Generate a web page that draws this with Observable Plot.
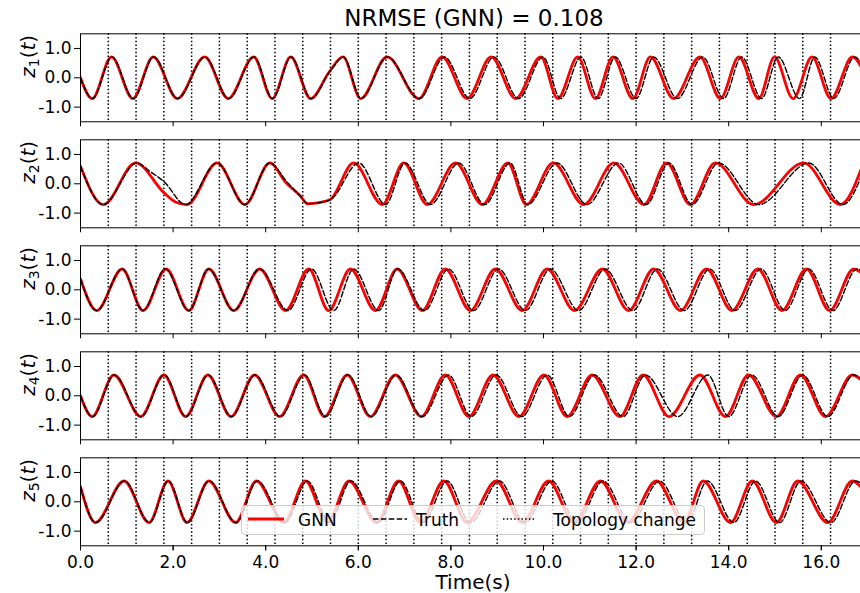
<!DOCTYPE html>
<html><head><meta charset="utf-8">
<script src="https://cdn.jsdelivr.net/npm/d3@7"></script>
<script src="https://cdn.jsdelivr.net/npm/@observablehq/plot@0.6"></script>
<style>
html,body{margin:0;padding:0;background:#fff;overflow:hidden;}
#wrap{position:relative;width:860px;height:593px;overflow:hidden;font-family:"DejaVu Sans",sans-serif;color:#000;}
#wrap svg{position:absolute;left:0;top:0;overflow:hidden;}
.abs{position:absolute;white-space:nowrap;}
#title{left:0;width:948px;top:5px;text-align:center;font-size:23px;}
#xlabel{left:0;width:946px;top:571px;text-align:center;font-size:20px;line-height:22px;}
#legend{left:241px;top:505px;width:464px;height:30px;box-sizing:border-box;background:rgba(255,255,255,0.8);border:1px solid #cccccc;border-radius:4px;font-size:17px;}
#legend .t{position:absolute;top:4px;line-height:20px;}
#legend svg{position:absolute;top:0;}
</style>
</head><body>
<div id="wrap">
  <div id="plot"></div>
  <div id="title" class="abs">NRMSE (GNN) = 0.108</div>
  <div id="xlabel" class="abs">Time(s)</div>
  <div id="legend" class="abs"></div>
</div>
<script>
// ---- data (extrema / shape points: [time, value]) ----
const seriesNames = ["z1", "z2", "z3", "z4", "z5"];
const xTicks = [0, 2, 4, 6, 8, 10, 12, 14, 16];
const yTicks = [-1, 0, 1];
const topologyTimes = [0.6, 1.2, 1.8, 2.4, 3.0, 3.6, 4.2, 4.8, 5.4, 6.0, 6.6, 7.2, 7.8, 8.4, 9.0,
  9.6, 10.2, 10.8, 11.4, 12.0, 12.6, 13.2, 13.8, 14.4, 15.0, 15.6, 16.2];

const z1Gnn = [[0,0.0],[0.25,-0.71],[0.67,0.71],[1.13,-0.71],[1.57,0.71],[2.09,-0.71],[2.68,0.71],[3.19,-0.71],[3.74,0.71],[4.14,-0.71],[4.54,0.71],[4.97,-0.71],[5.38,0.22],[5.67,0.71],[6.05,-0.71],[6.62,0.71],[7.31,-0.71],
  [7.81,0.71],[8.35,-0.71],[8.87,0.71],[9.40,-0.71],[9.94,0.71],[10.31,-0.71],[10.74,0.71],[11.12,-0.71],[11.50,0.71],[11.93,-0.71],[12.31,0.71],[12.81,-0.71],[13.38,0.71],[13.82,-0.71],[14.22,0.71],[14.65,-0.71],[14.99,0.71],[15.39,-0.71],[15.80,0.71],[16.21,-0.71],[16.67,0.71],[16.89,0.3]];
const z1Truth = [[0,0.0],[0.26,-0.71],[0.68,0.71],[1.14,-0.71],[1.58,0.71],[2.10,-0.71],[2.69,0.71],[3.20,-0.71],[3.75,0.71],[4.15,-0.71],[4.55,0.71],[4.98,-0.71],[5.39,0.22],[5.68,0.71],[6.06,-0.71],[6.63,0.71],[7.32,-0.71],
  [7.86,0.71],[8.41,-0.71],[8.93,0.71],[9.46,-0.71],[9.99,0.71],[10.37,-0.71],[10.81,0.71],[11.18,-0.71],[11.55,0.71],[12.00,-0.71],[12.38,0.71],[12.89,-0.71],[13.44,0.71],[13.89,-0.71],[14.28,0.71],[14.71,-0.71],[15.07,0.71],[15.53,-0.71],[15.86,0.71],[16.27,-0.71],[16.72,0.71],[16.89,0.45]];

const z2Gnn = [[0,0.6],[0.49,-0.71],[1.19,0.71],[1.80,-0.3],[2.05,-0.62],[2.30,-0.71],[2.95,0.71],[3.55,-0.71],[4.09,0.71],[4.43,0.05],[4.75,-0.42],[4.90,-0.68],[5.18,-0.63],[5.40,-0.53],[5.90,0.71],[6.52,-0.71],[6.98,0.71],[7.49,-0.71],
  [8.10,0.71],[8.68,-0.71],[9.23,0.71],[9.63,-0.71],[10.21,0.71],[10.87,-0.71],[11.52,0.71],[12.17,-0.71],[12.66,0.71],[13.17,-0.71],[13.71,0.71],[14.54,-0.71],[15.62,0.71],[16.41,-0.71],[16.89,0.62]];
const z2Truth = [[0,0.6],[0.49,-0.71],[1.22,0.71],[1.50,0.42],[1.80,0.08],[2.27,-0.71],[2.95,0.71],[3.55,-0.71],[4.09,0.71],[4.45,0.08],[4.75,-0.42],[4.92,-0.68],[5.18,-0.64],[5.42,-0.52],[6.01,0.71],[6.59,-0.71],[7.01,0.71],[7.56,-0.71],
  [8.17,0.71],[8.73,-0.71],[9.28,0.71],[9.66,-0.71],[10.29,0.71],[10.94,-0.71],[11.62,0.71],[12.22,-0.71],[12.71,0.71],[13.21,-0.71],[13.78,0.71],[14.65,-0.71],[15.73,0.71],[16.47,-0.71],[16.89,0.35]];

const z3Gnn = [[0,0.37],[0.35,-0.71],[0.90,0.71],[1.35,-0.71],[1.85,0.71],[2.34,-0.71],[2.77,0.71],[3.31,-0.71],[3.87,0.71],[4.43,-0.71],[4.93,0.71],[5.36,-0.71],[5.83,0.71],[6.37,-0.71],[6.84,0.71],[7.38,-0.71],
  [7.88,0.71],[8.42,-0.71],[8.96,0.71],[9.54,-0.71],[10.08,0.71],[10.67,-0.71],[11.27,0.71],[11.84,-0.71],[12.38,0.71],[12.96,-0.71],[13.52,0.71],[14.07,-0.71],[14.63,0.71],[15.15,-0.71],[15.68,0.71],[16.18,-0.71],[16.70,0.71],[16.89,0.55]];
const z3Truth = [[0,0.37],[0.35,-0.71],[0.90,0.71],[1.35,-0.71],[1.83,0.71],[2.34,-0.71],[2.77,0.71],[3.31,-0.71],[3.87,0.71],[4.48,-0.71],[4.99,0.71],[5.47,-0.71],[5.90,0.71],[6.44,-0.71],[6.85,0.71],[7.43,-0.71],
  [7.95,0.71],[8.49,-0.71],[9.03,0.71],[9.61,-0.71],[10.15,0.71],[10.76,-0.71],[11.33,0.71],[11.93,-0.71],[12.46,0.71],[13.04,-0.71],[13.59,0.71],[14.14,-0.71],[14.70,0.71],[15.22,-0.71],[15.73,0.71],[16.25,-0.71],[16.77,0.71],[16.89,0.66]];

const z4Gnn = [[0,0.0],[0.25,-0.71],[0.72,0.71],[1.30,-0.71],[1.80,0.71],[2.27,-0.71],[2.75,0.71],[3.25,-0.71],[3.76,0.71],[4.30,-0.71],[4.82,0.71],[5.27,-0.71],[5.76,0.71],[6.26,-0.71],[6.80,0.71],[7.36,-0.71],
  [7.88,0.71],[8.39,-0.71],[8.91,0.71],[9.47,-0.71],[10.01,0.71],[10.51,-0.71],[11.05,0.71],[11.65,-0.71],[12.15,0.71],[12.71,-0.71],[13.38,0.71],[13.93,-0.71],[14.43,0.71],[15.03,-0.71],[15.55,0.71],[16.09,-0.71],[16.67,0.71],[16.89,0.5]];
const z4Truth = [[0,0.0],[0.26,-0.71],[0.73,0.71],[1.31,-0.71],[1.81,0.71],[2.28,-0.71],[2.76,0.71],[3.26,-0.71],[3.77,0.71],[4.32,-0.71],[4.84,0.71],[5.29,-0.71],[5.78,0.71],[6.28,-0.71],[6.82,0.71],[7.38,-0.71],
  [7.95,0.71],[8.44,-0.71],[8.98,0.71],[9.53,-0.71],[10.08,0.71],[10.56,-0.71],[11.10,0.71],[11.72,-0.71],[12.20,0.71],[12.90,-0.71],[13.55,0.71],[14.00,-0.71],[14.50,0.71],[15.07,-0.71],[15.60,0.71],[16.14,-0.71],[16.70,0.71],[16.89,0.55]];

const z5Gnn = [[0,0.52],[0.32,-0.71],[0.94,0.71],[1.48,-0.71],[1.89,0.71],[2.30,-0.71],[2.77,0.71],[3.35,-0.71],[3.80,0.71],[4.39,-0.71],[4.86,0.71],[5.33,-0.71],[5.80,0.71],[6.39,-0.71],[6.87,0.71],[7.34,-0.71],
  [7.85,0.71],[8.35,-0.71],[8.98,0.71],[9.54,-0.71],[10.11,0.71],[10.66,-0.71],[11.23,0.71],[11.81,-0.71],[12.44,0.71],[13.03,-0.71],[13.45,0.71],[14.04,-0.71],[14.51,0.71],[15.03,-0.71],[15.49,0.71],[16.14,-0.71],[16.67,0.71],[16.89,0.45]];
const z5Truth = [[0,0.52],[0.33,-0.71],[0.95,0.71],[1.49,-0.71],[1.90,0.71],[2.31,-0.71],[2.78,0.71],[3.36,-0.71],[3.82,0.71],[4.42,-0.71],[4.90,0.71],[5.38,-0.71],[5.84,0.71],[6.43,-0.71],[6.91,0.71],[7.40,-0.71],
  [7.92,0.71],[8.42,-0.71],[9.05,0.71],[9.60,-0.71],[10.18,0.71],[10.72,-0.71],[11.29,0.71],[11.88,-0.71],[12.51,0.71],[13.10,-0.71],[13.54,0.71],[14.11,-0.71],[14.58,0.71],[15.10,-0.71],[15.56,0.71],[16.21,-0.71],[16.74,0.71],[16.89,0.6]];

// ---- tables for Plot ----
const toRows = (series, pts) => pts.map(([t, v]) => ({series, t, v}));
const gnnRows = [].concat(toRows("z1", z1Gnn), toRows("z2", z2Gnn), toRows("z3", z3Gnn), toRows("z4", z4Gnn), toRows("z5", z5Gnn));
const truthRows = [].concat(toRows("z1", z1Truth), toRows("z2", z2Truth), toRows("z3", z3Truth), toRows("z4", z4Truth), toRows("z5", z5Truth));

const fmt = d => d.toFixed(1);

const chart = Plot.plot({
  width: 860,
  height: 593,
  marginLeft: 80,
  marginRight: -2,
  marginTop: 33.3,
  marginBottom: 47.7,
  style: {fontFamily: "DejaVu Sans, sans-serif", fontSize: "17px", background: "white", color: "black", overflow: "hidden"},
  x: {domain: [0, 16.89]},
  y: {domain: [-1.5, 1.5]},
  fy: {domain: seriesNames, paddingInner: 0.17, paddingOuter: 0, round: false, axis: null},
  marks: [
    Plot.ruleX(topologyTimes, {x: d => d, stroke: "black", strokeWidth: 1.5, strokeDasharray: "1.5,2.2"}),
    Plot.line(gnnRows, {x: "t", y: "v", fy: "series", stroke: "#ff0000", strokeWidth: 2.8, curve: "monotone-x", clip: true}),
    Plot.line(truthRows, {x: "t", y: "v", fy: "series", stroke: "black", strokeWidth: 1.4, strokeDasharray: "5.5,2.4", curve: "monotone-x", clip: true}),
    Plot.axisY({ticks: yTicks, tickFormat: fmt, tickSize: 6, tickPadding: 3, label: null, fontSize: 17}),
    Plot.axisX({ticks: xTicks, tickFormat: () => "", tickSize: 5, label: null, facetAnchor: null}),
    Plot.axisX({ticks: xTicks, tickFormat: fmt, tickSize: 5, tickPadding: 5, label: null, fontSize: 17}),
    Plot.text(seriesNames, {fy: d => d, text: d => d, frameAnchor: "left", dx: -52, rotate: -90, fontSize: 20}),
    Plot.frame({stroke: "black", strokeWidth: 1})
  ]
});
document.getElementById("plot").appendChild(chart);

// y labels: z_k(t) with italic z, t and subscript index
const NS = "http://www.w3.org/2000/svg";
chart.querySelectorAll("text").forEach(el => {
  const s = el.textContent;
  if (!seriesNames.includes(s)) return;
  const k = s.slice(1);
  while (el.firstChild) el.removeChild(el.firstChild);
  const add = (str, attrs) => {
    const t = document.createElementNS(NS, "tspan");
    t.textContent = str;
    for (const a in attrs) t.setAttribute(a, attrs[a]);
    el.appendChild(t);
  };
  add("z", {"font-style": "italic"});
  add(k, {"font-size": "14", dy: "4"});
  add("(", {dy: "-4"});
  add("t", {"font-style": "italic"});
  add(")", {});
});

// legend (matplotlib style, inside the bottom panel)
const legendItems = [
  {label: "GNN", stroke: "#ff0000", width: 2.8, dash: null, x: 6, w: 36, tx: 56},
  {label: "Truth", stroke: "black", width: 1.4, dash: "5.5,2.4", x: 131, w: 34, tx: 174},
  {label: "Topology change", stroke: "black", width: 1.5, dash: "1.5,2.2", x: 261, w: 33, tx: 311}
];
const legend = document.getElementById("legend");
legendItems.forEach(it => {
  const s = document.createElementNS(NS, "svg");
  s.setAttribute("width", it.w); s.setAttribute("height", 28);
  s.style.left = it.x + "px";
  const l = document.createElementNS(NS, "line");
  l.setAttribute("x1", 0); l.setAttribute("x2", it.w);
  l.setAttribute("y1", 13); l.setAttribute("y2", 13);
  l.setAttribute("stroke", it.stroke); l.setAttribute("stroke-width", it.width);
  if (it.dash) l.setAttribute("stroke-dasharray", it.dash);
  s.appendChild(l);
  legend.appendChild(s);
  const t = document.createElement("div");
  t.className = "t"; t.style.left = it.tx + "px"; t.textContent = it.label;
  legend.appendChild(t);
});
</script>
</body></html>
